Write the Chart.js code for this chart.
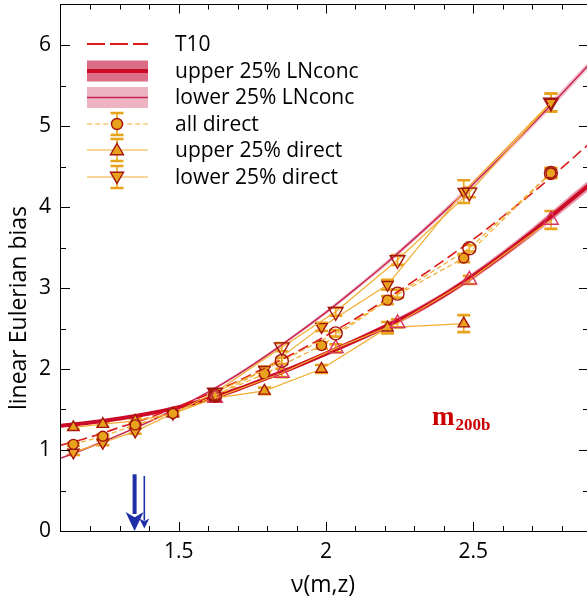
<!DOCTYPE html>
<html>
<head>
<meta charset="utf-8">
<script src="https://cdn.jsdelivr.net/npm/chart.js@4.4.1/dist/chart.umd.min.js"></script>
<style>
  html, body { margin: 0; padding: 0; background: #fff; overflow: hidden; }
  #wrap { width: 587px; height: 601px; overflow: hidden; position: relative; }
  canvas { display: block; }
</style>
</head>
<body>
<div id="wrap"><canvas id="chart" width="589" height="601"></canvas></div>
<script>
// ---- model curves on a regular nu grid ----
const nuGrid        = [1.1, 1.2, 1.3, 1.4, 1.5, 1.6, 1.7, 1.8, 1.9, 2.0, 2.1, 2.2, 2.3, 2.4, 2.5, 2.6, 2.7, 2.8, 2.9];
const biasT10       = [1.06, 1.16, 1.28, 1.40, 1.54, 1.69, 1.85, 2.03, 2.21, 2.41, 2.62, 2.85, 3.09, 3.34, 3.60, 3.88, 4.17, 4.48, 4.80];
const biasHighConc  = [1.30, 1.34, 1.39, 1.45, 1.53, 1.63, 1.75, 1.89, 2.035, 2.19, 2.35, 2.52, 2.70, 2.91, 3.15, 3.41, 3.69, 3.99, 4.29];
const highConcBand  = [0.015, 0.015, 0.015, 0.015, 0.02, 0.02, 0.02, 0.025, 0.025, 0.03, 0.03, 0.035, 0.04, 0.04, 0.045, 0.05, 0.055, 0.06, 0.065];
const biasLowConc   = [0.90, 1.04, 1.19, 1.35, 1.525, 1.715, 1.93, 2.17, 2.43, 2.70, 2.99, 3.29, 3.61, 3.94, 4.285, 4.645, 5.015, 5.395, 5.785];
const lowConcBand   = [0.012, 0.012, 0.012, 0.015, 0.015, 0.015, 0.02, 0.02, 0.02, 0.025, 0.025, 0.03, 0.03, 0.035, 0.035, 0.04, 0.04, 0.045, 0.045];

// ---- direct measurements, main set (filled symbols) ----
const nuDirect        = [1.142, 1.242, 1.352, 1.480, 1.623, 1.791, 1.985, 2.209, 2.468, 2.764];
const biasAllDirect   = [1.07, 1.17, 1.31, 1.45, 1.67, 1.94, 2.29, 2.85, 3.37, 4.42];
const errAllDirect    = [0.02, 0.02, 0.02, 0.02, 0.03, 0.03, 0.04, 0.05, 0.05, 0.06];
const nuUpperDirect   = [1.142, 1.242, 1.352, 1.480, 1.623, 1.791, 1.985, 2.209, 2.468];
const biasUpperDirect = [1.28, 1.32, 1.36, 1.45, 1.64, 1.73, 2.00, 2.51, 2.56];
const errUpperDirect  = [0.03, 0.03, 0.03, 0.03, 0.04, 0.04, 0.05, 0.07, 0.105];
const biasLowerDirect = [0.97, 1.09, 1.23, 1.45, 1.71, 1.99, 2.52, 3.04, 4.19, 5.29];
const errLowerDirect  = [0.03, 0.03, 0.03, 0.03, 0.04, 0.04, 0.05, 0.06, 0.14, 0.11];

// ---- direct measurements, second set (open symbols) ----
const nuDirect2        = [1.623, 1.850, 2.033, 2.243, 2.487, 2.764];
const biasAllDirect2   = [1.67, 2.10, 2.44, 2.93, 3.49, 4.42];
const errAllDirect2    = [0.03, 0.04, 0.04, 0.05, 0.04, 0.06];
const biasUpperDirect2 = [1.64, 1.95, 2.255, 2.564, 3.10, 3.84];
const errUpperDirect2  = [0.04, 0.05, 0.05, 0.05, 0.05, 0.11];
const biasLowerDirect2 = [1.71, 2.27, 2.707, 3.346, 4.18, 5.29];
const errLowerDirect2  = [0.04, 0.05, 0.05, 0.06, 0.06, 0.11];

// ---- mass-scale markers along the nu axis ----
const arrowNu   = [1.350, 1.383];
const arrowFrom = [0.70, 0.68];
const arrowTo   = [0.00, 0.03];

// ---- axes ----
const xTickLabels = [1.5, 2, 2.5];
const xMinorTicks = [1.2, 1.3, 1.4, 1.6, 1.7, 1.8, 1.9, 2.1, 2.2, 2.3, 2.4, 2.6, 2.7, 2.8];
const yTickLabels = [0, 1, 2, 3, 4, 5, 6];
const yMinorTicks = [0.5, 1.5, 2.5, 3.5, 4.5, 5.5];
const legendLabels = ['T10', 'upper 25% LNconc', 'lower 25% LNconc', 'all direct', 'upper 25% direct', 'lower 25% direct'];
const massLabel = ['m', '200b'];
const xTitle = 'ν(m,z)';
const yTitle = 'linear Eulerian bias';

const FONT = "'Open Sans', 'DejaVu Sans', sans-serif";
const ORANGE = '#e9a21b';
const ORANGE_LINE = '#f0ad30';
const DARK_RED = '#a3140e';
const PINK_EDGE = '#d8345e';
const T10_RED = '#dd1a1a';
const THICK_RED = '#cc0b28';
const THIN_RED = '#c82550';
const BAND_HIGH = 'rgba(214, 84, 114, 0.6)';
const BAND_LOW = 'rgba(232, 150, 172, 0.55)';

const pts = (xs, ys) => xs.map((x, i) => ({ x: x, y: ys[i] }));
const shifted = (ys, ds, s) => ys.map((y, i) => y + s * ds[i]);

function markerSet(xs, ys, errs, opts) {
  return Object.assign({
    data: pts(xs, ys),
    errorBars: errs,
    showLine: true,
    borderColor: ORANGE_LINE,
    borderWidth: 1.2,
    pointBorderWidth: 1.4,
    pointHoverRadius: 0
  }, opts);
}

function curve(ys, opts) {
  return Object.assign({
    data: pts(nuGrid, ys),
    showLine: true,
    pointRadius: 0,
    pointHoverRadius: 0,
    cubicInterpolationMode: 'monotone',
    fill: false
  }, opts);
}

const datasets = [
  // open symbols
  markerSet(nuDirect2, biasAllDirect2, errAllDirect2, { borderDash: [5, 3], pointStyle: 'circle', pointRadius: 6.5, pointBackgroundColor: 'rgba(0,0,0,0)', pointBorderColor: DARK_RED }),
  markerSet(nuDirect2, biasUpperDirect2, errUpperDirect2, { pointStyle: 'triangle', pointRadius: 8.5, pointBackgroundColor: 'rgba(0,0,0,0)', pointBorderColor: PINK_EDGE }),
  markerSet(nuDirect2, biasLowerDirect2, errLowerDirect2, { pointStyle: 'triangle', pointRotation: 180, pointRadius: 8.5, pointBackgroundColor: 'rgba(0,0,0,0)', pointBorderColor: DARK_RED }),
  // filled symbols
  markerSet(nuDirect, biasAllDirect, errAllDirect, { borderDash: [5, 3], pointStyle: 'circle', pointRadius: 5, pointBackgroundColor: ORANGE, pointBorderColor: DARK_RED }),
  markerSet(nuUpperDirect, biasUpperDirect, errUpperDirect, { pointStyle: 'triangle', pointRadius: 6.5, pointBackgroundColor: ORANGE, pointBorderColor: DARK_RED }),
  markerSet(nuDirect, biasLowerDirect, errLowerDirect, { pointStyle: 'triangle', pointRotation: 180, pointRadius: 6.5, pointBackgroundColor: ORANGE, pointBorderColor: DARK_RED }),
  // model curves
  curve(biasT10, { borderColor: T10_RED, borderWidth: 1.6, borderDash: [11, 5] }),
  curve(biasHighConc, { borderColor: THICK_RED, borderWidth: 4 }),
  curve(biasLowConc, { borderColor: THIN_RED, borderWidth: 1.5 }),
  // uncertainty bands
  curve(shifted(biasHighConc, highConcBand, 1), { borderWidth: 0, borderColor: 'rgba(0,0,0,0)', backgroundColor: BAND_HIGH, fill: '+1' }),
  curve(shifted(biasHighConc, highConcBand, -1), { borderWidth: 0, borderColor: 'rgba(0,0,0,0)' }),
  curve(shifted(biasLowConc, lowConcBand, 1), { borderWidth: 0, borderColor: 'rgba(0,0,0,0)', backgroundColor: BAND_LOW, fill: '+1' }),
  curve(shifted(biasLowConc, lowConcBand, -1), { borderWidth: 0, borderColor: 'rgba(0,0,0,0)' })
];

function drawTri(ctx, x, y, r, down, fill, stroke) {
  const s = down ? -1 : 1;
  ctx.beginPath();
  ctx.moveTo(x, y - s * r);
  ctx.lineTo(x + r * 0.866, y + s * r * 0.5);
  ctx.lineTo(x - r * 0.866, y + s * r * 0.5);
  ctx.closePath();
  ctx.fillStyle = fill; ctx.fill();
  ctx.lineWidth = 1.4; ctx.strokeStyle = stroke; ctx.stroke();
}

function drawErr(ctx, x, y1, y2, cap) {
  ctx.strokeStyle = ORANGE;
  ctx.lineWidth = 1.6;
  ctx.beginPath(); ctx.moveTo(x, y1); ctx.lineTo(x, y2); ctx.stroke();
  ctx.lineWidth = 2.6;
  ctx.beginPath();
  ctx.moveTo(x - cap, y1); ctx.lineTo(x + cap, y1);
  ctx.moveTo(x - cap, y2); ctx.lineTo(x + cap, y2);
  ctx.stroke();
}

const decorations = {
  id: 'decorations',
  beforeDatasetsDraw(chart) {
    const { ctx, scales: { x, y } } = chart;
    ctx.save();
    ctx.beginPath();
    ctx.rect(chart.chartArea.left, chart.chartArea.top, chart.chartArea.right - chart.chartArea.left, chart.chartArea.bottom - chart.chartArea.top);
    ctx.clip();
    chart.data.datasets.forEach(ds => {
      if (!ds.errorBars) return;
      ds.data.forEach((p, i) => {
        const e = ds.errorBars[i];
        drawErr(ctx, x.getPixelForValue(p.x), y.getPixelForValue(p.y + e), y.getPixelForValue(p.y - e), 6.5);
      });
    });
    ctx.restore();
  },
  afterDraw(chart) {
    const { ctx, chartArea: a, scales: { x, y } } = chart;
    ctx.save();

    // frame
    ctx.strokeStyle = '#000';
    ctx.lineWidth = 1;
    ctx.strokeRect(a.left - 0.5, a.top, a.right - a.left + 0.5, a.bottom - a.top + 0.5);

    // inward tick marks on all four sides
    const tick = (vals, len, horiz) => {
      vals.forEach(v => {
        ctx.beginPath();
        if (horiz) {
          const px = Math.round(x.getPixelForValue(v)) + 0.5;
          ctx.moveTo(px, a.bottom); ctx.lineTo(px, a.bottom - len);
          ctx.moveTo(px, a.top); ctx.lineTo(px, a.top + len);
        } else {
          const py = Math.round(y.getPixelForValue(v)) + 0.5;
          ctx.moveTo(a.left, py); ctx.lineTo(a.left + len, py);
          ctx.moveTo(a.right, py); ctx.lineTo(a.right - len, py);
        }
        ctx.stroke();
      });
    };
    tick(xTickLabels, 9, true);
    tick(xMinorTicks, 5, true);
    tick(yTickLabels, 9, false);
    tick(yMinorTicks, 5, false);

    // arrows marking characteristic masses
    ctx.fillStyle = '#1f2fa8';
    ctx.strokeStyle = '#1f2fa8';
    const shaft = [4, 1.6], headW = [9, 5], headL = [19, 10];
    arrowNu.forEach((nu, i) => {
      const px = x.getPixelForValue(nu);
      const y0 = y.getPixelForValue(arrowFrom[i]);
      const y1 = y.getPixelForValue(arrowTo[i]);
      ctx.lineWidth = shaft[i];
      ctx.beginPath(); ctx.moveTo(px, y0); ctx.lineTo(px, y1 - headL[i] + 2); ctx.stroke();
      ctx.beginPath();
      ctx.moveTo(px, y1);
      ctx.lineTo(px - headW[i], y1 - headL[i]);
      ctx.lineTo(px, y1 - headL[i] * 0.72);
      ctx.lineTo(px + headW[i], y1 - headL[i]);
      ctx.closePath();
      ctx.fill();
    });

    // mass definition label
    ctx.fillStyle = '#cc0000';
    ctx.textBaseline = 'alphabetic';
    ctx.textAlign = 'left';
    const mx = x.getPixelForValue(2.36), my = y.getPixelForValue(1.31);
    ctx.font = "bold 27px 'Liberation Serif', 'DejaVu Serif', serif";
    ctx.fillText(massLabel[0], mx, my);
    const mw = ctx.measureText(massLabel[0]).width;
    ctx.font = "bold 17px 'Liberation Serif', 'DejaVu Serif', serif";
    ctx.fillText(massLabel[1], mx + mw + 1, my + 5);

    // axis titles
    ctx.fillStyle = '#000';
    ctx.font = '23px ' + FONT;
    ctx.textAlign = 'center';
    ctx.textBaseline = 'middle';
    ctx.fillText(xTitle, 323, 585);
    ctx.save();
    ctx.translate(19, 308);
    ctx.rotate(-Math.PI / 2);
    ctx.fillText(yTitle, 0, 0);
    ctx.restore();

    // legend
    const x0 = 87, x1 = 148, xc = 117, tx = 175;
    const rows = [44, 71, 97.5, 124, 150, 177];
    ctx.lineCap = 'butt';
    // T10
    ctx.strokeStyle = T10_RED; ctx.lineWidth = 1.8; ctx.setLineDash([18, 5]);
    ctx.beginPath(); ctx.moveTo(x0, rows[0]); ctx.lineTo(x1, rows[0]); ctx.stroke();
    ctx.setLineDash([]);
    // LNconc bands
    ctx.fillStyle = 'rgba(214, 84, 114, 0.85)';
    ctx.fillRect(x0, rows[1] - 10.5, x1 - x0, 21);
    ctx.strokeStyle = THICK_RED; ctx.lineWidth = 4;
    ctx.beginPath(); ctx.moveTo(x0, rows[1]); ctx.lineTo(x1, rows[1]); ctx.stroke();
    ctx.fillStyle = 'rgba(232, 160, 180, 0.8)';
    ctx.fillRect(x0, rows[2] - 10.5, x1 - x0, 21);
    ctx.strokeStyle = THIN_RED; ctx.lineWidth = 1.5;
    ctx.beginPath(); ctx.moveTo(x0, rows[2]); ctx.lineTo(x1, rows[2]); ctx.stroke();
    // direct measurements
    for (let k = 3; k < 6; k++) {
      ctx.strokeStyle = ORANGE_LINE; ctx.lineWidth = 1.2;
      ctx.setLineDash(k === 3 ? [5, 3] : []);
      ctx.beginPath(); ctx.moveTo(x0, rows[k]); ctx.lineTo(x1, rows[k]); ctx.stroke();
      ctx.setLineDash([]);
      drawErr(ctx, xc, rows[k] - 11, rows[k] + 11, 6.5);
      if (k === 3) {
        ctx.beginPath(); ctx.arc(xc, rows[k], 5.5, 0, Math.PI * 2);
        ctx.fillStyle = ORANGE; ctx.fill();
        ctx.lineWidth = 1.4; ctx.strokeStyle = DARK_RED; ctx.stroke();
      } else {
        drawTri(ctx, xc, rows[k] + (k === 4 ? 1 : -1), 7.5, k === 5, ORANGE, DARK_RED);
      }
    }
    ctx.fillStyle = '#000';
    ctx.font = '21px ' + FONT;
    ctx.textAlign = 'left';
    ctx.textBaseline = 'middle';
    legendLabels.forEach((t, k) => ctx.fillText(t, tx, rows[k] + 1));

    ctx.restore();
  }
};

new Chart(document.getElementById('chart'), {
  type: 'scatter',
  data: { datasets: datasets },
  options: {
    responsive: false,
    animation: false,
    devicePixelRatio: 1,
    layout: { autoPadding: false, padding: { top: 4.5, right: 1, bottom: 0, left: 0 } },
    plugins: { legend: { display: false }, tooltip: { enabled: false } },
    elements: { line: { tension: 0 } },
    scales: {
      x: {
        type: 'linear', min: 1.1, max: 2.89,
        grid: { display: false, drawTicks: false },
        border: { display: false },
        afterBuildTicks: s => { s.ticks = xTickLabels.map(v => ({ value: v })); },
        afterFit: s => { s.height = 70; s.paddingLeft = 0; s.paddingRight = 0; },
        ticks: { color: '#000', font: { family: FONT, size: 21 }, padding: 8, maxRotation: 0, autoSkip: false, callback: v => String(v) }
      },
      y: {
        type: 'linear', min: 0, max: 6.5,
        grid: { display: false, drawTicks: false },
        border: { display: false },
        afterBuildTicks: s => { s.ticks = yTickLabels.map(v => ({ value: v })); },
        afterFit: s => { s.width = 61; s.paddingTop = 0; s.paddingBottom = 0; },
        ticks: { color: '#000', font: { family: FONT, size: 21 }, padding: 10, autoSkip: false, callback: v => String(v) }
      }
    }
  },
  plugins: [decorations]
});
</script>
</body>
</html>
